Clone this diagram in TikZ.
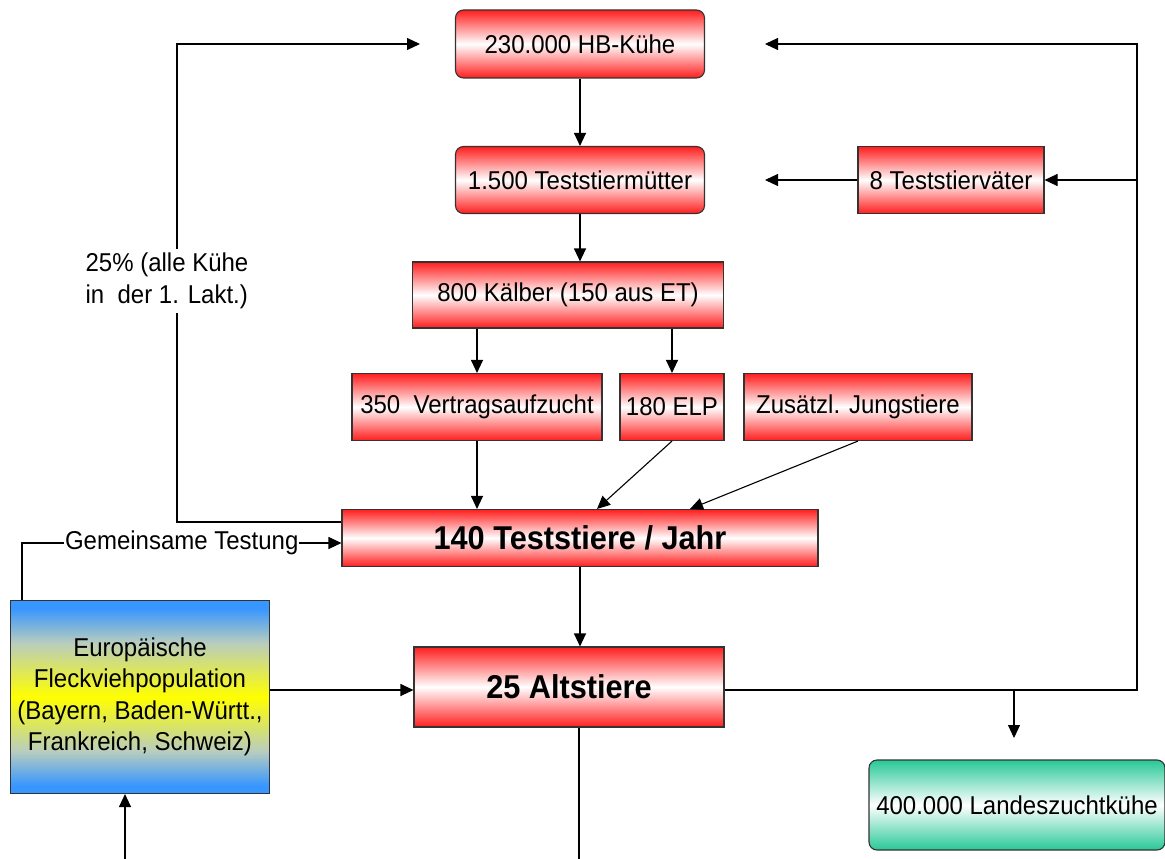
\documentclass[tikz,border=0pt]{standalone}
\usepackage{fontspec}
\setmainfont{Liberation Sans}[FakeStretch=0.93]
\usetikzlibrary{arrows.meta, calc}

\definecolor{boxred}{RGB}{255,30,30}
\definecolor{euroblue}{RGB}{55,150,255}
\definecolor{eurogrey}{RGB}{185,205,190}
\definecolor{euroyellow}{RGB}{255,255,0}
\definecolor{lzgreen}{RGB}{40,200,150}

\pgfdeclareverticalshading{europa}{100bp}{color(0bp)=(euroblue); color(27bp)=(euroblue);
	color(36bp)=(eurogrey); color(50bp)=(euroyellow); color(64bp)=(eurogrey);
	color(73bp)=(euroblue); color(100bp)=(euroblue)}

\begin{document}
\begin{tikzpicture}[x=1pt, y=-1pt, line width=1.1pt,
	arr/.style={-{Triangle[length=13pt, width=12pt]}},
	txt/.style={font=\fontsize{25.8}{31.5}\selectfont},
	redbox/.style={txt, draw=black!80, rectangle, inner sep=0pt, minimum height=67pt,
		top color=boxred, bottom color=boxred, middle color=white},
	roundbox/.style={redbox, rounded corners=8pt},
	bigbox/.style={redbox, font=\fontsize{33}{38}\selectfont\bfseries}]

	\useasboundingbox (0,0) rectangle (1165,859);

	% Zuchtprogramm
	\node[roundbox, minimum width=249pt, minimum height=68pt] (kuehe) at (580,44)
		{230.000 HB-Kühe};
	\node[roundbox, minimum width=249pt] (muetter) at (580,180)
		{1.500 Teststiermütter};
	\node[redbox, minimum width=186pt] (vaeter) at (951,180)
		{8 Teststierväter};
	\node[redbox, minimum width=311pt, minimum height=66pt] (kaelber) at (568,295)
		{800 Kälber (150 aus ET)};
	\node[redbox, minimum width=250pt] (aufzucht) at (477,407)
		{350\ \ Vertragsaufzucht};
	\node[redbox, minimum width=104pt] (elp) at (672,407)
		{180 ELP};
	\node[redbox, minimum width=228pt] (jungstiere) at (858,407)
		{Zusätzl. Jungstiere};
	\node[bigbox, minimum width=476pt, minimum height=57pt] (teststiere) at (580,538)
		{140 Teststiere / Jahr};
	\node[bigbox, minimum width=310pt, minimum height=80pt] (altstiere) at (569,687)
		{25 Altstiere};
	\node[txt, draw=black!80, inner sep=0pt, minimum width=259pt, minimum height=193pt, align=center,
		shading=europa] (europa) at (140,697)
		{Europäische\\Fleckviehpopulation\\(Bayern, Baden-Württ.,\\Frankreich, Schweiz)};
	\node[txt, draw=black!80, rounded corners=8pt, inner sep=0pt, minimum width=296pt, minimum height=90pt,
		top color=lzgreen, bottom color=lzgreen, middle color=white] (landeszucht) at (1017,805)
		{400.000 Landeszuchtkühe};

	% freie Enden
	\coordinate (linksoben) at (177,522);
	\coordinate (rechts) at (1137,690);
	\coordinate (kueheein) at (420,44);
	\coordinate (kueheeinR) at (765,44);
	\coordinate (muettereinR) at (765,180);
	\coordinate (lzein) at (1014,738);
	\coordinate (gemeinsam) at (22,543);
	\coordinate (unten) at (579,859);
	\coordinate (euunten) at (125,859);

	\draw[arr] (kuehe) -- (muetter);
	\draw[arr] (muetter) -- (muetter |- kaelber.north);
	\draw[arr] (aufzucht |- kaelber.south) -- (aufzucht);
	\draw[arr] (elp |- kaelber.south) -- (elp);
	\draw[arr] (aufzucht) -- (aufzucht |- teststiere.north);
	\draw[arr] (elp.south) -- ([xshift=17pt]teststiere.north);
	\draw[arr] (jungstiere.south) -- ([xshift=110pt]teststiere.north);
	\draw[arr] (teststiere) -- (teststiere |- altstiere.north);
	\draw (unten |- altstiere.south) -- (unten);
	\draw[arr] (europa.east |- rechts) -- (altstiere.west |- rechts);
	\draw[arr] (euunten) -- (euunten |- europa.south);
	\draw[arr] (gemeinsam |- europa.north) -- (gemeinsam)
		-- node[txt, fill=white, inner sep=1pt] {Gemeinsame Testung} (gemeinsam -| teststiere.west);
	\draw[arr] (linksoben -| teststiere.west) -- (linksoben) -- (linksoben |- kuehe) -- (kueheein);
	\node[txt, fill=white, align=left, inner sep=4pt] (anteil) at (167,281)
		{25\% (alle Kühe\\in\ \ der 1. Lakt.)};
	\draw[arr] (altstiere.east |- rechts) -- (rechts) -- (rechts |- kuehe) -- (kueheeinR);
	\draw[arr] (rechts |- vaeter) -- (vaeter);
	\draw[arr] (vaeter) -- (muettereinR);
	\draw[arr] (lzein |- rechts) -- (lzein);
\end{tikzpicture}
\end{document}
